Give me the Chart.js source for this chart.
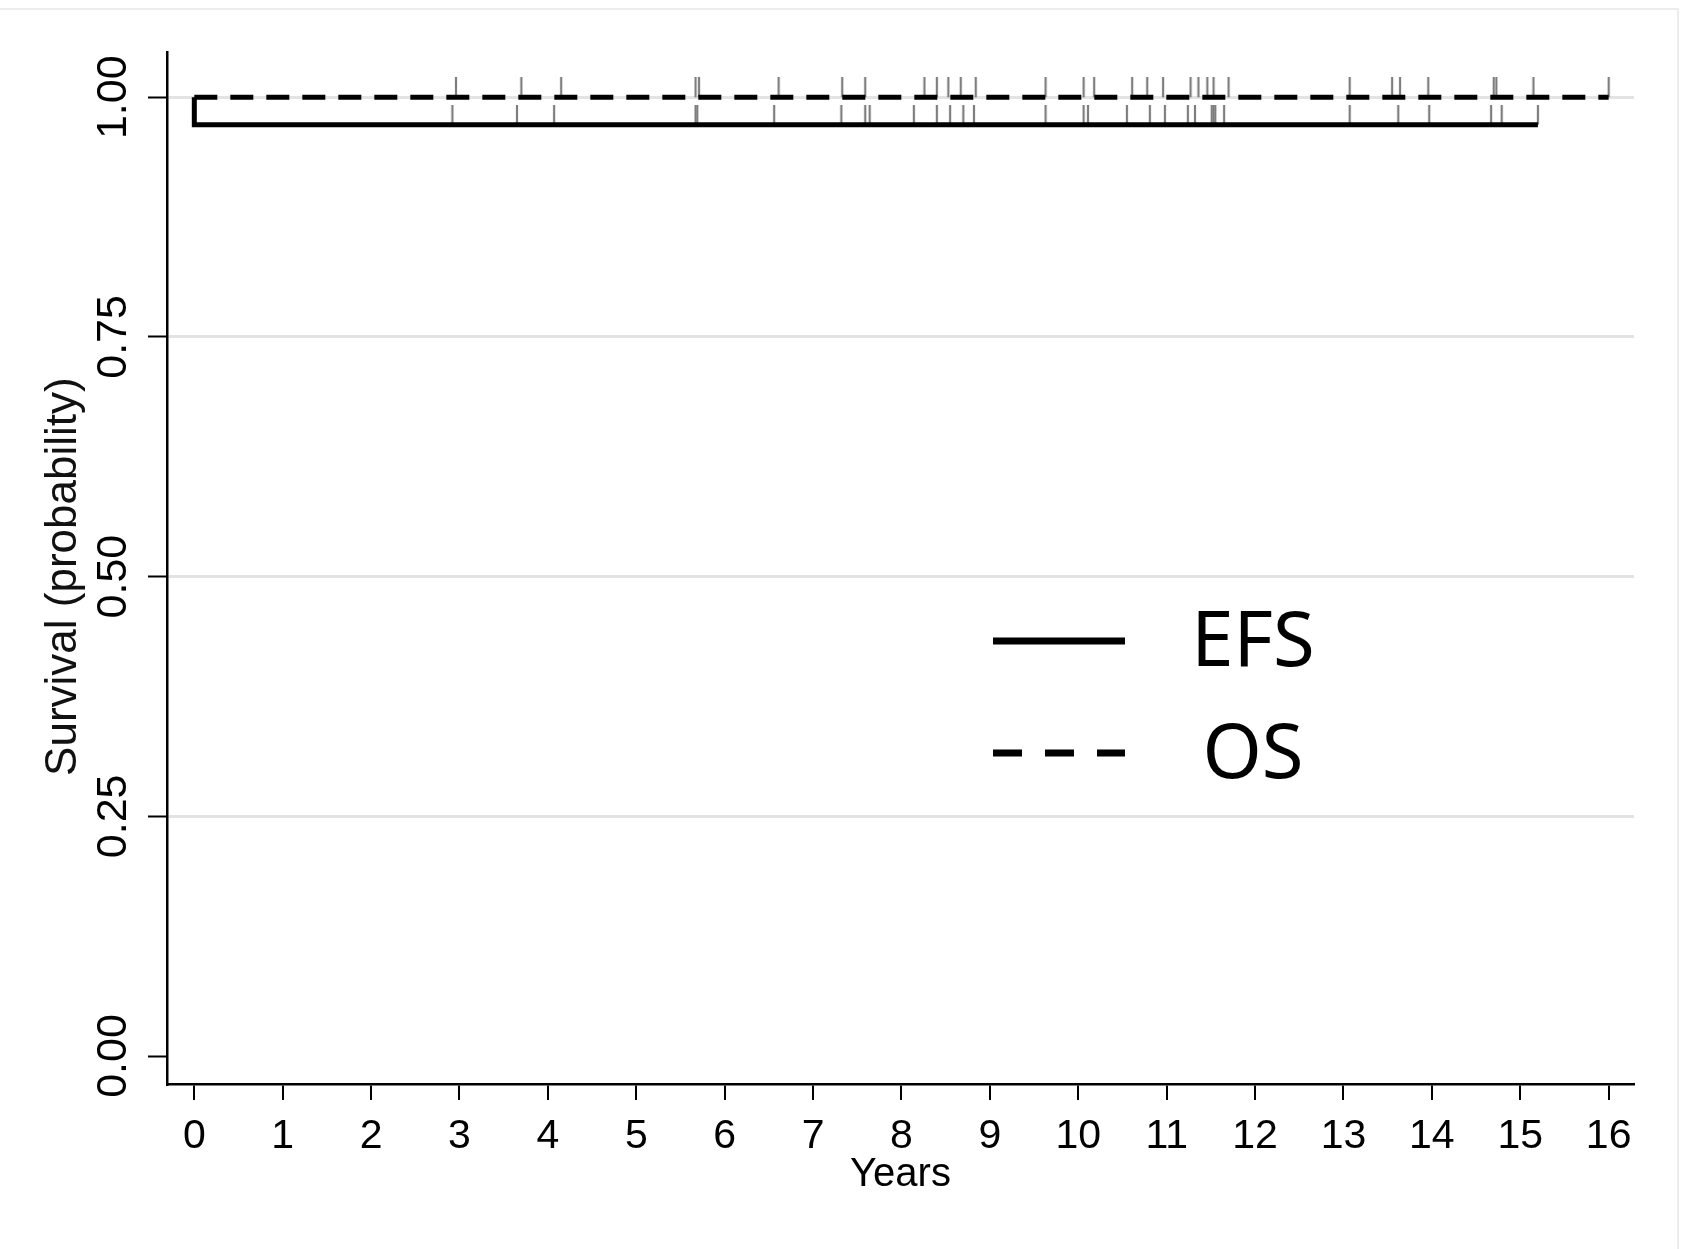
<!DOCTYPE html>
<html>
<head>
<meta charset="utf-8">
<script src="https://cdn.jsdelivr.net/npm/chart.js@4/dist/chart.umd.min.js"></script>
<style>
html,body{margin:0;padding:0;background:#fff;}
#wrap{position:relative;width:1686px;height:1249px;background:#fff;}
#frame{position:absolute;left:0;top:8px;width:1677px;height:1241px;border-top:2px solid #ececec;border-right:2px solid #ececec;pointer-events:none;}
</style>
</head>
<body>
<div id="wrap"><canvas id="c"></canvas><div id="frame"></div></div>
<script>
// ---------------- data ----------------
const seriesLabels = ['EFS', 'OS'];
// Kaplan-Meier step points (time in years, survival probability)
const efsTimes = [0, 0, 15.2];
const efsSurv  = [1, 0.9714, 0.9714];
const osTimes  = [0, 16];
const osSurv   = [1, 1];
// censoring times (years)
const efsCensorTimes = [2.92, 3.65, 4.07, 5.67, 5.69, 6.56, 7.32, 7.59, 7.64, 8.14, 8.40, 8.55, 8.70, 8.82,
  9.63, 10.06, 10.11, 10.55, 10.81, 10.98, 11.24, 11.32, 11.51, 11.53, 11.55, 11.65,
  13.07, 13.62, 13.97, 14.67, 14.79, 15.20];
const osCensorTimes = [2.96, 3.70, 4.15, 5.67, 5.71, 6.61, 7.33, 7.59, 8.26, 8.40, 8.53, 8.67, 8.84,
  9.63, 10.06, 10.18, 10.61, 10.78, 10.96, 11.27, 11.36, 11.46, 11.53, 11.70,
  13.07, 13.55, 13.64, 13.96, 14.70, 14.73, 15.15, 16.0];
const xTickValues = [0, 1, 2, 3, 4, 5, 6, 7, 8, 9, 10, 11, 12, 13, 14, 15, 16];
const yTickValues = [0, 0.25, 0.5, 0.75, 1];
const xTitle = 'Years';
const yTitle = 'Survival (probability)';

// ---------------- helpers ----------------
function stepValue(times, surv, t) {
  let s = surv[0];
  for (let i = 0; i < times.length; i++) if (times[i] <= t) s = surv[i];
  return s;
}
function toPoints(times, surv) { return times.map((t, i) => ({x: t, y: surv[i]})); }
function censorPoints(ct, times, surv) { return ct.map(t => ({x: t, y: stepValue(times, surv, t)})); }
function censorMark(len, w, color) {
  const c = document.createElement('canvas');
  c.width = 4; c.height = len * 2;
  const g = c.getContext('2d');
  g.strokeStyle = color; g.lineWidth = w;
  g.beginPath(); g.moveTo(2, 0); g.lineTo(2, len); g.stroke();
  return c;
}
const markImg = censorMark(20, 2.2, '#7e7e7e');

const FONT = "'Liberation Sans', Arial, Helvetica, sans-serif";

const legendPlugin = {
  id: 'kmLegend',
  afterDatasetsDraw(chart, args, opts) {
    const ctx = chart.ctx;
    ctx.save();
    opts.items.forEach((it, i) => {
      const ds = chart.data.datasets[it.dataset];
      const y = opts.y + i * opts.rowGap;
      ctx.strokeStyle = ds.borderColor;
      ctx.lineWidth = opts.lineWidth;
      ctx.lineCap = 'butt';
      ctx.setLineDash(it.dash || []);
      ctx.beginPath(); ctx.moveTo(opts.x0, y); ctx.lineTo(opts.x1, y); ctx.stroke();
      ctx.setLineDash([]);
      ctx.fillStyle = '#000';
      ctx.font = opts.font;
      ctx.textAlign = 'center';
      ctx.textBaseline = 'middle';
      ctx.fillText(ds.label, opts.textX, y + opts.textDy);
    });
    ctx.restore();
  }
};

// y-axis title, centred on the middle y tick (0.50) as in the original
const yTitlePlugin = {
  id: 'yTitleMid',
  afterDraw(chart, args, opts) {
    const ys = chart.scales.y;
    const ctx = chart.ctx;
    ctx.save();
    ctx.translate(opts.x, ys.getPixelForValue(opts.at));
    ctx.rotate(-Math.PI / 2);
    ctx.font = opts.font;
    ctx.fillStyle = opts.color;
    ctx.textAlign = 'center';
    ctx.textBaseline = 'middle';
    ctx.fillText(opts.text, 0, 0);
    ctx.restore();
  }
};

new Chart(document.getElementById('c'), {
  type: 'line',
  data: {
    datasets: [
      { label: seriesLabels[0], data: toPoints(efsTimes, efsSurv), borderColor: '#000', borderWidth: 5,
        stepped: 'after', pointRadius: 0, fill: false, borderCapStyle: 'butt', borderJoinStyle: 'miter' },
      { label: seriesLabels[1], data: toPoints(osTimes, osSurv), borderColor: '#000', borderWidth: 5,
        borderDash: [23, 13], stepped: 'after', pointRadius: 0, fill: false, borderCapStyle: 'butt' },
      { type: 'scatter', label: 'EFS censored', data: censorPoints(efsCensorTimes, efsTimes, efsSurv),
        pointStyle: markImg, pointRadius: 5, showLine: false },
      { type: 'scatter', label: 'OS censored', data: censorPoints(osCensorTimes, osTimes, osSurv),
        pointStyle: markImg, pointRadius: 5, showLine: false }
    ]
  },
  options: {
    responsive: true,
    maintainAspectRatio: false,
    animation: false,
    events: [],
    layout: { padding: { top: 52, right: 52, left: 0, bottom: 0 } },
    plugins: {
      legend: { display: false },
      tooltip: { enabled: false },
      kmLegend: {
        items: [{dataset: 0, dash: []}, {dataset: 1, dash: [29, 23]}],
        x0: 993, x1: 1125, y: 641, rowGap: 112, lineWidth: 7,
        textX: 1253, textDy: 3, font: "76px 'Noto Sans', 'Open Sans', sans-serif"
      },
      yTitleMid: { text: yTitle, at: yTickValues[2], x: 64, color: '#111', font: "44px " + FONT }
    },
    scales: {
      x: {
        type: 'linear', min: -0.309, max: 16.287,
        afterBuildTicks: s => { s.ticks = xTickValues.map(v => ({value: v})); },
        afterFit: s => { s.height = 165; },
        ticks: { autoSkip: false, maxRotation: 0, minRotation: 0, padding: 12, color: '#000',
                 font: { family: FONT, size: 41 }, callback: v => String(v) },
        grid: { drawOnChartArea: false, drawTicks: true, tickLength: 16, tickColor: '#000', tickWidth: 2, lineWidth: 2 },
        border: { display: true, color: '#000', width: 2.5 },
        title: { display: true, text: xTitle, color: '#000', font: { family: FONT, size: 40 },
                 padding: { top: 0, bottom: 50 } }
      },
      y: {
        type: 'linear', min: -0.0292, max: 1.0472,
        afterBuildTicks: s => { s.ticks = yTickValues.map(v => ({value: v})); },
        afterFit: s => { s.width = 167; },
        ticks: { autoSkip: false, minRotation: 90, maxRotation: 90, crossAlign: 'center', padding: -8,
                 color: '#000', font: { family: FONT, size: 43 }, callback: v => v.toFixed(2) },
        grid: { drawOnChartArea: true, drawTicks: true, tickLength: 19, tickColor: '#000', tickWidth: 2,
                lineWidth: 3, color: c => (c.tick && c.tick.value === 0) ? 'rgba(0,0,0,0)' : '#e3e3e3' },
        border: { display: true, color: '#000', width: 2.5 },
        title: { display: false }
      }
    }
  },
  plugins: [legendPlugin, yTitlePlugin]
});
</script>
</body>
</html>
